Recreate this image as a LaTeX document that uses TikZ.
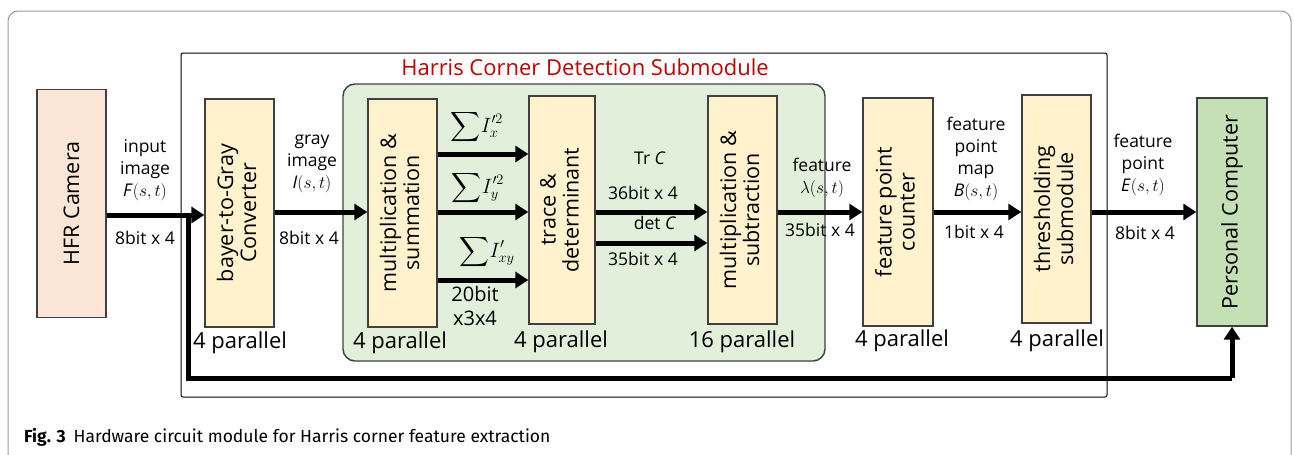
\documentclass[tikz,border=0pt]{standalone}
\usepackage{fontspec}
\usepackage{amsmath}
\setmainfont{Open Sans}
\newfontfamily\capfont{Fira Sans}
\usetikzlibrary{arrows.meta}
\definecolor{camfill}{HTML}{FBE5D6}
\definecolor{boxfill}{HTML}{FFF2CC}
\definecolor{grpfill}{HTML}{E2EFDA}
\definecolor{pcfill}{HTML}{C5E0B4}
\definecolor{edge}{HTML}{404040}
\definecolor{titlered}{HTML}{C00000}
\newcommand{\rfont}{\fontsize{21.5}{25}\selectfont}
\begin{document}
\begin{tikzpicture}[x=1pt,y=-1pt,
  blk/.style={draw=edge, line width=1.4pt, minimum width=69pt, minimum height=228pt, inner sep=0pt, fill=boxfill},
  flow/.style={line width=5pt, -{Triangle[length=13pt,width=16pt]}},
  lbl/.style={font=\fontsize{17.5}{22}\selectfont, align=center, inner sep=0pt},
  sumlbl/.style={font=\fontsize{20}{24}\selectfont, inner sep=0pt},
  par/.style={font=\fontsize{22}{24}\selectfont, inner sep=0pt}
]
\useasboundingbox (0,0) rectangle (1294,455);
% outer frame
\draw[color=gray!80, line width=1pt, rounded corners=10pt] (8,470) -- (8,11) -- (1291,11) -- (1291,470);
% submodule frame
\node[draw=black, line width=1pt, rounded corners=2pt, minimum width=926pt, minimum height=344pt, inner sep=0pt] (sub) at (644,225) {};
\node[font=\fontsize{22}{24}\selectfont, text=titlered, inner sep=0pt] (title) at (585,67) {Harris Corner Detection Submodule};
% green group
\node[draw=edge, line width=1.4pt, fill=grpfill, rounded corners=12pt, minimum width=482pt, minimum height=277pt, inner sep=0pt] (grp) at (584,222.5) {};
% blocks
\node[blk, fill=camfill] (cam) at (71.5,203.5) {\rotatebox{90}{\rfont HFR Camera}};
\node[blk] (bayer) at (239.5,213) {\rotatebox{90}{\rfont\begin{tabular}{@{}c@{}}bayer-to-Gray\\[-2pt]Converter\end{tabular}}};
\node[blk] (ms) at (402.5,213) {\rotatebox{90}{\rfont\begin{tabular}{@{}c@{}}multiplication \&\\[-2pt]summation\end{tabular}}};
\node[blk, minimum width=66pt] (td) at (562,210) {\rotatebox{90}{\rfont\begin{tabular}{@{}c@{}}trace \&\\[-2pt]determinant\end{tabular}}};
\node[blk] (msub) at (742.5,210) {\rotatebox{90}{\rfont\begin{tabular}{@{}c@{}}multiplication \&\\[-2pt]subtraction\end{tabular}}};
\node[blk, minimum width=70pt] (fpc) at (898,212) {\rotatebox{90}{\rfont\begin{tabular}{@{}c@{}}feature point\\[-2pt]counter\end{tabular}}};
\node[blk] (thr) at (1056.5,209) {\rotatebox{90}{\rfont\begin{tabular}{@{}c@{}}thresholding\\[-2pt]submodule\end{tabular}}};
\node[blk, fill=pcfill, minimum width=70pt] (pc) at (1232,212) {\rotatebox{90}{\rfont Personal Computer}};
% parallel labels
\node[par] (p1) at (240,343) {4 parallel};
\node[par] (p2) at (400,343) {4 parallel};
\node[par] (p3) at (561,342) {4 parallel};
\node[par] (p4) at (742,342) {16 parallel};
\node[par] (p5) at (902,341) {4 parallel};
\node[par] (p6) at (1057,341) {4 parallel};
% arrows
\coordinate (br) at (188,215);
\coordinate (fbL) at (188,378);
\coordinate (fbR) at (pc.south |- 0,378);
\draw[flow] (cam.east |- br) -- (bayer.west |- br);
\draw[line width=5pt] (br) -- (fbL) -- (fbR);
\draw[flow] (fbR) -- (pc.south);
\draw[flow] (bayer.east |- 0,212) -- (ms.west |- 0,212);
\draw[flow] (ms.east |- 0,154) -- (td.west |- 0,154);
\draw[flow] (ms.east |- 0,212) -- (td.west |- 0,212);
\draw[flow] (ms.east |- 0,280) -- (td.west |- 0,280);
\draw[flow] (td.east |- 0,212) -- (msub.west |- 0,212);
\draw[flow] (td.east |- 0,243) -- (msub.west |- 0,243);
\draw[flow] (msub.east |- 0,212) -- (fpc.west |- 0,212);
\draw[flow] (fpc.east |- 0,212) -- (thr.west |- 0,212);
\draw[flow] (thr.east |- 0,212) -- (pc.west |- 0,212);
% labels
\node[lbl] (l1) at (145,170) {input\\image\\\textit{F}$(s,t)$};
\node[lbl] (l1b) at (145,238) {8bit x 4};
\node[lbl] (l2) at (312,164) {gray\\image\\\textit{I}$(s,t)$};
\node[lbl] (l2b) at (309,238) {8bit x 4};
\node[sumlbl] (sx) at (477,127) {$\displaystyle\sum\! I'^{2}_{x}$};
\node[sumlbl] (sy) at (478,188) {$\displaystyle\sum\! I'^{2}_{y}$};
\node[sumlbl] (sxy) at (487,252) {$\displaystyle\sum\! I'_{xy}$};
\node[lbl, font=\fontsize{20}{24}\selectfont] (l3b) at (475,306) {20bit\\x3x4};
\node[lbl] (trc) at (650,158) {Tr \textit{C}};
\node[lbl] (b36) at (643,193) {36bit x 4};
\node[lbl] (detc) at (655,223) {det \textit{C}};
\node[lbl] (b35) at (643,259) {35bit x 4};
\node[lbl] (feat) at (822,178) {feature\\$\lambda(s,t)$};
\node[lbl] (b35b) at (820,230) {35bit x 4};
\node[lbl] (fmap) at (976,159) {feature\\point\\map\\\textit{B}$(s,t)$};
\node[lbl] (b1) at (974,232) {1bit x 4};
\node[lbl] (fpt) at (1143,165) {feature\\point\\\textit{E}$(s,t)$};
\node[lbl] (b8) at (1145,233) {8bit x 4};
% caption
\node[anchor=west, inner sep=0pt, font=\capfont\fontsize{17.5}{20}\selectfont] (cap) at (24,437) {\textbf{Fig. 3}\hspace{8pt}Hardware circuit module for Harris corner feature extraction};
\end{tikzpicture}
\end{document}
